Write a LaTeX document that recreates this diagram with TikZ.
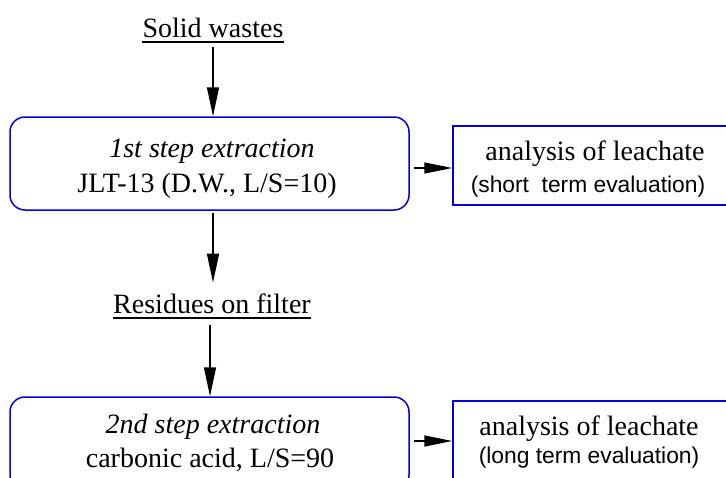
\documentclass[tikz,border=0pt]{standalone}
\usepackage{fontspec}
\setmainfont{Liberation Serif}
\newfontfamily\arialf{Liberation Sans}
\usetikzlibrary{arrows.meta}
\definecolor{boxblue}{RGB}{0,0,225}
\tikzset{
  x=1pt, y=-1pt,
  roundbox/.style={draw=boxblue, line width=1.5pt, rounded corners=15pt, minimum width=399pt, inner sep=0pt},
  rectbox/.style={draw=boxblue, line width=1.5pt, minimum width=275pt, minimum height=79pt, inner sep=0pt},
  serif/.style={font=\fontsize{28}{34}\selectfont, inner sep=0pt, anchor=base},
  sans/.style={font=\arialf\fontsize{22.8}{28}\selectfont, inner sep=0pt, anchor=base},
  title/.style={font=\fontsize{28}{34}\selectfont, inner xsep=0pt, inner ysep=4.5pt, anchor=base},
  arr/.style={line width=1.5pt, -{Triangle[length=29pt,width=12pt]}},
  harr/.style={line width=1.5pt, -{Triangle[length=28pt,width=11pt]}},
  uline/.style={line width=1.4pt}
}
\begin{document}
\begin{tikzpicture}
\clip (0,0) rectangle (726,477);
% boxes
\node[roundbox, minimum height=93pt] (b1) at (209.5,163.5) {};
\node[rectbox] (r1) at (590.5,165.5) {};
\node[roundbox, minimum height=93pt] (b2) at (209.5,443.5) {};
\node[rectbox] (r2) at (590.5,440.5) {};
% titles
\node[title] (sw) at (213,37) {Solid wastes};
\draw[uline] (sw.south west) -- (sw.south east);
\node[title] (rf) at (212,313) {Residues on filter};
\draw[uline] (rf.south west) -- (rf.south east);
% texts
\node[serif] (t1a) at (212,157) {\itshape 1st step extraction};
\node[serif] (t1b) at (207,192) {JLT-13 (D.W., L/S=10)};
\node[serif] (t2a) at (213,433) {\itshape 2nd step extraction};
\node[serif] (t2b) at (210,467) {carbonic acid, L/S=90};
\node[serif] (r1a) at (595,160) {analysis of leachate};
\node[sans] (r1b) at (588,192) {(short\ \ term evaluation)};
\node[serif] (r2a) at (589,435) {analysis of leachate};
\node[sans] (r2b) at (589,463) {(long term evaluation)};
% arrows
\draw[arr, shorten <=5pt] (sw.south) -- (sw.south |- b1.north);
\coordinate (c1) at ([yshift=-2pt]b1.south -| sw.south);
\draw[arr, shorten >=6pt] (c1) -- (c1 |- rf.north);
\draw[arr, shorten <=7pt] ([xshift=-2pt]rf.south) -- ([xshift=-2pt]rf.south |- b2.north);
\coordinate (h1) at ([xshift=4pt,yshift=-4.5pt]b1.east);
\draw[harr] (h1) -- (h1 -| r1.west);
\coordinate (h2) at ([xshift=4pt,yshift=2.5pt]b2.east);
\draw[harr] (h2) -- (h2 -| r2.west);
\end{tikzpicture}
\end{document}
